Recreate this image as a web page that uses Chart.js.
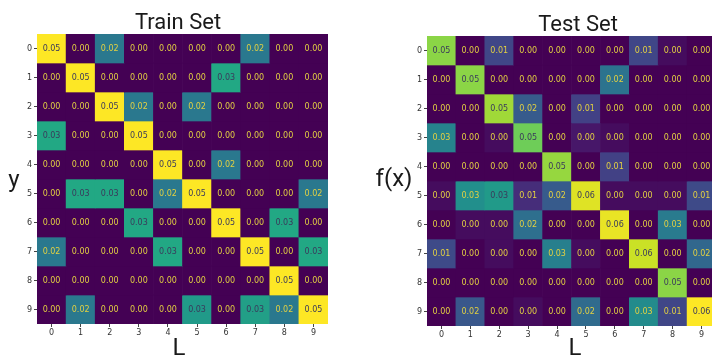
<!DOCTYPE html>
<html>
<head>
<meta charset="utf-8">
<script src="https://cdn.jsdelivr.net/npm/chart.js@4.4.0/dist/chart.umd.min.js"></script>
<style>
  html, body { margin: 0; padding: 0; background: #fff; overflow: hidden; width: 712px; height: 356px; }
  .panel { position: absolute; top: 0; height: 356px; }
  #trainWrap { left: 0; width: 340px; }
  #testWrap { left: 370px; width: 350px; }
</style>
</head>
<body>
<div id="trainWrap" class="panel"><canvas id="trainChart"></canvas></div>
<div id="testWrap" class="panel"><canvas id="testChart"></canvas></div>
<script>
// columns (L) and rows (y / f(x))
const L_LABELS = ['0', '1', '2', '3', '4', '5', '6', '7', '8', '9'];
const Y_LABELS = ['0', '1', '2', '3', '4', '5', '6', '7', '8', '9'];

// rows are y = 0..9, columns are L = 0..9
const trainValues = [
  [0.050, 0, 0.020, 0, 0, 0, 0, 0.020, 0, 0],
  [0, 0.050, 0, 0, 0, 0, 0.030, 0, 0, 0],
  [0, 0, 0.050, 0.020, 0, 0.020, 0, 0, 0, 0],
  [0.030, 0, 0, 0.050, 0, 0, 0, 0, 0, 0],
  [0, 0, 0, 0, 0.050, 0, 0.020, 0, 0, 0],
  [0, 0.030, 0.030, 0, 0.020, 0.050, 0, 0, 0, 0.020],
  [0, 0, 0, 0.030, 0, 0, 0.050, 0, 0.030, 0],
  [0.020, 0, 0, 0, 0.030, 0, 0, 0.050, 0, 0.030],
  [0, 0, 0, 0, 0, 0, 0, 0, 0.050, 0],
  [0, 0.020, 0, 0, 0, 0.027, 0, 0.028, 0.020, 0.050]
];

const testValues = [
  [0.052, 0, 0.013, 0, 0, 0, 0, 0.013, 0.002, 0],
  [0, 0.052, 0, 0, 0, 0, 0.024, 0, 0, 0],
  [0, 0, 0.054, 0.018, 0, 0.012, 0, 0, 0, 0],
  [0.028, 0, 0.002, 0.049, 0, 0.004, 0.002, 0, 0, 0],
  [0, 0, 0, 0, 0.053, 0, 0.012, 0, 0, 0],
  [0.002, 0.031, 0.034, 0.008, 0.018, 0.060, 0.002, 0.002, 0.002, 0.014],
  [0, 0.002, 0.002, 0.023, 0, 0, 0.061, 0, 0.026, 0],
  [0.014, 0, 0.002, 0, 0.027, 0.002, 0, 0.058, 0, 0.021],
  [0, 0, 0, 0, 0, 0, 0, 0, 0.052, 0],
  [0, 0.017, 0, 0.002, 0, 0.022, 0, 0.030, 0.013, 0.063]
];

// viridis stops
const VIRIDIS = [
  [68, 1, 84], [72, 36, 117], [65, 68, 135], [53, 95, 141], [42, 120, 142],
  [33, 145, 140], [34, 168, 132], [68, 191, 112], [122, 209, 81], [189, 223, 38], [253, 231, 37]
];

function viridis(t) {
  t = Math.max(0, Math.min(1, t));
  const p = t * (VIRIDIS.length - 1);
  const i = Math.min(Math.floor(p), VIRIDIS.length - 2);
  const f = p - i;
  const a = VIRIDIS[i], b = VIRIDIS[i + 1];
  const c = a.map((v, k) => Math.round(v + (b[k] - v) * f));
  return 'rgb(' + c.join(',') + ')';
}

const cellText = {
  id: 'cellText',
  afterDatasetsDraw(chart, args, opts) {
    const ctx = chart.ctx;
    ctx.save();
    ctx.font = '8px "DejaVu Sans"';
    ctx.textAlign = 'center';
    ctx.textBaseline = 'middle';
    chart.data.datasets.forEach((ds, r) => {
      chart.getDatasetMeta(r).data.forEach((bar, c) => {
        const v = ds.cellValues[c];
        ctx.fillStyle = v / opts.vmax > 0.5 ? '#3a3a5c' : '#e2d042';
        ctx.fillText(v.toFixed(2), bar.x, (bar.y + bar.base) / 2);
      });
    });
    ctx.restore();
  }
};

const panelText = {
  id: 'panelText',
  afterDraw(chart, args, opts) {
    const ctx = chart.ctx;
    ctx.save();
    ctx.fillStyle = '#1a1a1a';
    ctx.textAlign = 'center';
    ctx.textBaseline = 'alphabetic';
    ctx.font = '22px Roboto';
    ctx.fillText(opts.title, opts.titleX, opts.titleY);
    ctx.font = '24px Roboto';
    ctx.fillText(opts.yTitle, opts.yTitleX, opts.yTitleY);
    ctx.fillText(opts.xTitle, opts.xTitleX, 355);
    ctx.restore();
  }
};

function makeHeatmap(id, values, layout, text) {
  const vmax = Math.max(...values.flat());
  const datasets = values.map((row, r) => ({
    label: Y_LABELS[r],
    data: row.map(() => 1),
    cellValues: row,
    backgroundColor: row.map(v => viridis(v / vmax)),
    borderWidth: 0,
    barPercentage: 1,
    categoryPercentage: 1
  }));

  new Chart(document.getElementById(id), {
    type: 'bar',
    data: { labels: L_LABELS, datasets: datasets },
    options: {
      responsive: true,
      maintainAspectRatio: false,
      animation: false,
      layout: { padding: { left: 0, right: layout.right, top: layout.top, bottom: 0 } },
      scales: {
        x: {
          stacked: true,
          grid: { offset: false, drawOnChartArea: false, tickLength: 3, color: '#444' },
          border: { display: false },
          ticks: { color: '#333', padding: 1, font: { size: 8, family: 'DejaVu Sans' } },
          afterFit: s => { s.height = layout.xAxis; }
        },
        y: {
          type: 'linear',
          stacked: true,
          reverse: true,
          min: 0,
          max: 10,
          grid: { drawOnChartArea: false, tickLength: 3, color: '#444' },
          border: { display: false },
          afterBuildTicks: s => { s.ticks = Y_LABELS.map((t, i) => ({ value: i + 0.5 })); },
          ticks: {
            color: '#333',
            padding: 2,
            autoSkip: false,
            font: { size: 8, family: 'DejaVu Sans' },
            callback: (v, i) => Y_LABELS[i]
          },
          afterFit: s => { s.width = layout.yAxis; }
        }
      },
      plugins: {
        legend: { display: false },
        tooltip: { enabled: false },
        cellText: { vmax: vmax },
        panelText: text
      }
    },
    plugins: [cellText, panelText]
  });
}

makeHeatmap('trainChart', trainValues,
  { right: 12, top: 34, xAxis: 32, yAxis: 37 },
  { title: 'Train Set', titleX: 178, titleY: 29, yTitle: 'y', yTitleX: 14, yTitleY: 187, xTitle: 'L', xTitleX: 179 });

makeHeatmap('testChart', testValues,
  { right: 4, top: 36, xAxis: 30, yAxis: 57 },
  { title: 'Test Set', titleX: 208, titleY: 31, yTitle: 'f(x)', yTitleX: 24, yTitleY: 186, xTitle: 'L', xTitleX: 205 });
</script>
</body>
</html>
